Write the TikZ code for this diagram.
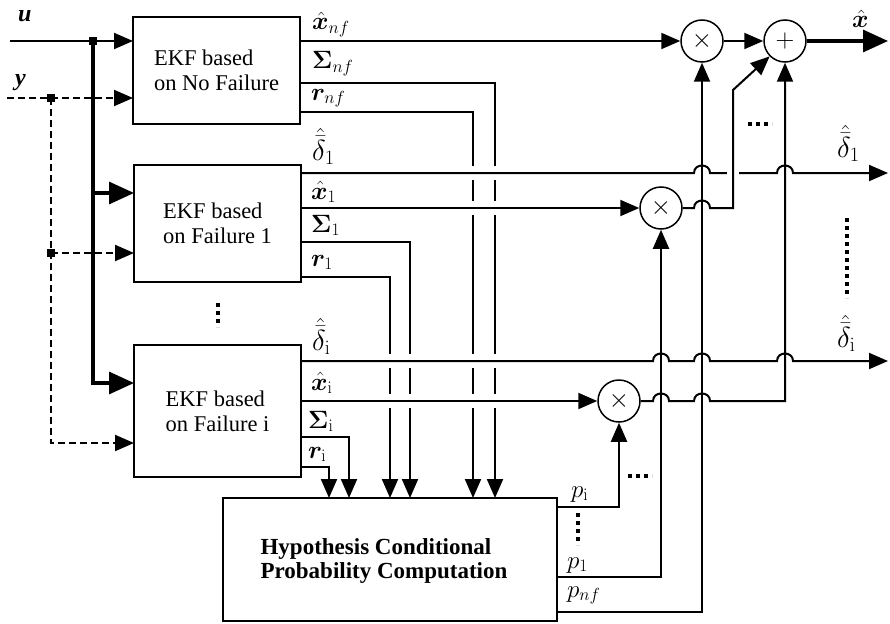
\RequirePackage{fix-cm}
\documentclass[tikz,border=0pt]{standalone}
\usepackage{amsmath,bm}
\usepackage[no-math]{fontspec}
\setmainfont{Liberation Serif}
\usetikzlibrary{arrows.meta}
\begin{document}
\begin{tikzpicture}[x=1pt,y=-1pt,
  ln/.style={line width=2pt},
  thk/.style={line width=3.2pt},
  arr/.style={-{Triangle[length=19pt,width=16pt]}},
  tarr/.style={-{Triangle[length=25pt,width=22pt]}},
  dsh/.style={line width=2pt,dash pattern=on 7pt off 4pt},
  ekfbox/.style={draw,line width=1.5pt,inner sep=0pt,outer sep=0pt,align=left,font=\fontsize{22.5}{25}\selectfont},
  mult/.style={draw,circle,line width=1.5pt,minimum size=42pt,inner sep=0pt,font=\fontsize{26}{26}\selectfont},
  lab/.style={anchor=base west,inner sep=0pt,font=\fontsize{25}{28}\selectfont},
  dlab/.style={anchor=base west,inner sep=0pt,font=\fontsize{29}{32}\selectfont},
  jn/.style={fill,minimum size=8pt,inner sep=0pt},
  dots/.style={line width=4pt,dash pattern=on 4pt off 4pt}
]
\useasboundingbox (0,0) rectangle (890,623);

% blocks
\node[ekfbox,minimum width=167pt,minimum height=107pt] (b1) at (216.5,70.5) {EKF based\\on No Failure};
\node[ekfbox,minimum width=167pt,minimum height=117pt] (b2) at (217.5,223.5) {EKF based\\on Failure 1};
\node[ekfbox,minimum width=167pt,minimum height=132pt] (b3) at (217.5,411) {EKF based\\on Failure i};
\node[ekfbox,minimum width=334pt,minimum height=123pt] (hyp) at (390,559.5) {};
\node[inner sep=0pt,align=left,font=\fontsize{23}{24}\selectfont\bfseries] (hyptxt) at (384,561) {Hypothesis Conditional\\Probability Computation};

\node[mult] (mnf) at (702,41) {$\times$};
\node[mult] (plus) at (785,41) {$+$};
\node[mult] (m1) at (661,208) {$\times$};
\node[mult] (mi) at (619,401) {$\times$};

% junction and end coordinates
\coordinate (uin) at (10,41);
\coordinate (ju) at (93,41);
\coordinate (yin) at (7,98);
\coordinate (jy) at (51,98);
\coordinate (jy2) at (51,253);
\coordinate (xout) at (888,41);
\coordinate (d1out) at (888,173);
\coordinate (diout) at (888,361);

% inputs
\draw[ln,arr] (uin) -- (b1.west |- uin);
\draw[thk,tarr] (ju) -- (93,383) -- (b3.west |- 0,383);
\draw[thk,tarr] (93,193) -- (b2.west |- 0,193);
\draw[dsh,arr] (yin) -- (b1.west |- yin);
\draw[dsh,arr] (jy) -- (51,443) -- (b3.west |- 0,443);
\draw[dsh,arr] (jy2) -- (b2.west |- jy2);
\node[jn] at (ju) {};
\node[jn] at (jy) {};
\node[jn] at (jy2) {};

% covariance / residual lines into hypothesis block
\draw[ln,arr] (b1.east |- 0,83) -- (495,83) -- (495,0 |- hyp.north);
\draw[ln,arr] (b1.east |- 0,112) -- (473,112) -- (473,0 |- hyp.north);
\draw[ln,arr] (b2.east |- 0,242) -- (410,242) -- (410,0 |- hyp.north);
\draw[ln,arr] (b2.east |- 0,277) -- (390,277) -- (390,0 |- hyp.north);
\draw[ln,arr] (b3.east |- 0,437) -- (349,437) -- (349,0 |- hyp.north);
\draw[ln,arr] (b3.east |- 0,467) -- (329,467) -- (329,0 |- hyp.north);

% probabilities
\draw[ln,arr] (hyp.east |- 0,612) -- (702,612) -- (mnf.south);
\draw[ln,arr] (hyp.east |- 0,577) -- (661,577) -- (m1.south);
\draw[ln,arr] (hyp.east |- 0,507) -- (619,507) -- (mi.south);

% gaps in vertical lines
\fill[white] (465,166) rectangle (503,180);
\fill[white] (465,201) rectangle (503,215);
\fill[white] (465,354) rectangle (503,368);
\fill[white] (465,394) rectangle (503,408);
\fill[white] (382,354) rectangle (418,368);
\fill[white] (382,394) rectangle (418,408);

% state estimates and failure magnitudes
\draw[ln,arr] (b1.east |- mnf) -- (mnf.west);
\draw[ln,arr] (mnf.east) -- (plus.west);
\draw[thk,tarr] (plus.east) -- (xout);
\draw[ln,arr] (b2.east |- d1out) -- (694,173) .. controls (694,163) and (710,163) .. (710,173)
   -- (777,173) .. controls (777,163) and (793,163) .. (793,173) -- (d1out);
\fill[white] (727,167) rectangle (739,179);
\draw[ln,arr] (b2.east |- m1) -- (m1.west);
\draw[ln,arr] (b3.east |- diout) -- (653,361) .. controls (653,351) and (669,351) .. (669,361)
   -- (694,361) .. controls (694,351) and (710,351) .. (710,361)
   -- (777,361) .. controls (777,351) and (793,351) .. (793,361) -- (diout);
\draw[ln,arr] (b3.east |- mi) -- (mi.west);

% products into the sum
\draw[ln,arr] (m1.east) -- (694,208) .. controls (694,198) and (710,198) .. (710,208)
   -- (733,208) -- (733,90) -- (plus.south west);
\draw[ln,arr] (mi.east) -- (653,401) .. controls (653,391) and (669,391) .. (669,401)
   -- (694,401) .. controls (694,391) and (710,391) .. (710,401)
   -- (785,401) -- (plus.south);

% dots
\draw[dots] (218,303) -- (218,327);
\draw[dots] (847,218) -- (847,298);
\draw[dots] (578,513) -- (578,545);
\draw[dots] (628,476) -- (652,476);
\draw[dots] (748,124) -- (772,124);

% labels
\node[lab,font=\fontsize{24}{24}\selectfont\bfseries\itshape] (lu) at (18,22) {u};
\node[lab,font=\fontsize{24}{24}\selectfont\bfseries\itshape] (ly) at (15,86) {y};
\node[lab] (lxnf) at (312,30) {$\hat{\bm{x}}_{nf}$};
\node[lab] (lsnf) at (312,69) {$\bm{\Sigma}_{nf}$};
\node[lab] (lrnf) at (311,100) {$\bm{r}_{nf}$};
\node[dlab] (ld1) at (312,160) {$\hat{\bar{\delta}}_1$};
\node[lab] (lx1) at (311,199) {$\hat{\bm{x}}_1$};
\node[lab] (ls1) at (311,232) {$\bm{\Sigma}_1$};
\node[lab] (lr1) at (311,266) {$\bm{r}_1$};
\node[dlab] (ldi) at (312,350) {$\hat{\bar{\delta}}_{\mathrm{i}}$};
\node[lab] (lxi) at (311,390) {$\hat{\bm{x}}_{\mathrm{i}}$};
\node[lab] (lsi) at (308,428) {$\bm{\Sigma}_{\mathrm{i}}$};
\node[lab] (lri) at (308,458) {$\bm{r}_{\mathrm{i}}$};
\node[dlab] (ld1r) at (837,157) {$\hat{\bar{\delta}}_1$};
\node[dlab] (ldir) at (837,347) {$\hat{\bar{\delta}}_{\mathrm{i}}$};
\node[lab] (lx) at (852,28) {$\hat{\bm{x}}$};
\node[lab] (lpi) at (571,497) {$p_{\mathrm{i}}$};
\node[lab] (lp1) at (567,568) {$p_1$};
\node[lab] (lpnf) at (567,597) {$p_{nf}$};
\end{tikzpicture}
\end{document}
